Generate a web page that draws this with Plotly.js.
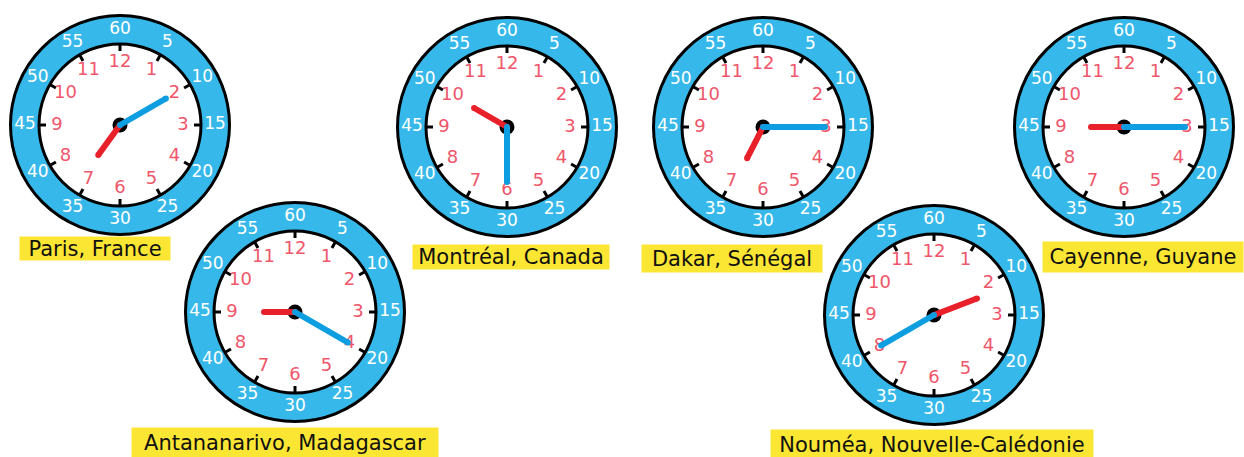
<!DOCTYPE html>
<html>
<head>
<meta charset="utf-8">
<script src="https://cdn.plot.ly/plotly-3.0.1.min.js"></script>
<style>html,body{margin:0;padding:0;background:#fff;}#chart{width:1244px;height:457px;}</style>
</head>
<body>
<div id="chart"></div>
<script>
// ---- data ----
const cities = ['Paris, France', 'Antananarivo, Madagascar', 'Montréal, Canada', 'Dakar, Sénégal', 'Nouméa, Nouvelle-Calédonie', 'Cayenne, Guyane'];
const hourHand = [7.2, 9.0, 10.0, 6.9, 2.3, 9.0];     // position of red hand on the 12-hour dial
const minuteHand = [10, 20, 30, 15, 40, 15];          // position of blue hand in minutes
const hourLabels = ['12','1','2','3','4','5','6','7','8','9','10','11'];
const minuteLabels = ['60','5','10','15','20','25','30','35','40','45','50','55'];

// ---- layout / styling ----
const centers = [[120,125],[295,312],[507,127],[763,127],[934,315],[1124,127]];
const hourLen = [37,31,38,35,46,33];
const minLen = [53,61,55,62,61,61];
const labelBoxes = [[95,248,150,23],[285,443,306,30],[511,257,196,24],[732,258,180,27],[932,445,322,30],[1143,257,200,30]];
const R_OUT = 109.5, R_IN = 81, R_MIN = 95, R_HOUR = 63, TICK_IN = 74, TICK_OUT = 81;
const RING = '#36b9ea', RED = '#e8202a', BLUE = '#0c9ee0', NUMRED = '#f0566a', YEL = '#fce634';
const FONT = '"DejaVu Sans", "Noto Sans", sans-serif';

function pt(c, ang, r) { const a = ang * Math.PI / 180; return [c[0] + r*Math.sin(a), c[1] - r*Math.cos(a)]; }

const shapes = [];
const traces = [];
const annotations = [];

centers.forEach((c, i) => {
  shapes.push({type:'circle', xref:'x', yref:'y', x0:c[0]-R_OUT, x1:c[0]+R_OUT, y0:c[1]-R_OUT, y1:c[1]+R_OUT,
    fillcolor:RING, line:{color:'#000', width:3}, layer:'below'});
  shapes.push({type:'circle', xref:'x', yref:'y', x0:c[0]-R_IN, x1:c[0]+R_IN, y0:c[1]-R_IN, y1:c[1]+R_IN,
    fillcolor:'#fff', line:{color:'#000', width:3}, layer:'below'});

  // ticks
  const tx = [], ty = [];
  for (let k = 0; k < 12; k++) {
    const p1 = pt(c, k*30, TICK_IN), p2 = pt(c, k*30, TICK_OUT);
    tx.push(p1[0], p2[0], null); ty.push(p1[1], p2[1], null);
  }
  traces.push({x:tx, y:ty, mode:'lines', line:{color:'#000', width:3}, hoverinfo:'skip'});

  // minute numbers
  const mx = [], my = [];
  minuteLabels.forEach((l, k) => { const p = pt(c, k*30, R_MIN); mx.push(p[0]); my.push(p[1]); });
  traces.push({x:mx, y:my, mode:'text', text:minuteLabels, textposition:'middle center',
    textfont:{family:FONT, size:17, color:'#fff'}, hoverinfo:'skip'});

  // hour numbers
  const hx = [], hy = [];
  hourLabels.forEach((l, k) => { const p = pt(c, k*30, R_HOUR); hx.push(p[0]); hy.push(p[1]); });
  traces.push({x:hx, y:hy, mode:'text', text:hourLabels, textposition:'middle center',
    textfont:{family:FONT, size:18, color:NUMRED}, hoverinfo:'skip'});

  // center dot
  traces.push({x:[c[0]], y:[c[1]], mode:'markers', marker:{color:'#000', size:15}, hoverinfo:'skip'});

  // hour hand
  const hp = pt(c, hourHand[i]*30, hourLen[i]);
  traces.push({x:[c[0], hp[0]], y:[c[1], hp[1]], mode:'lines+markers', line:{color:RED, width:6},
    marker:{color:RED, size:6}, hoverinfo:'skip'});
  // minute hand
  const mp = pt(c, minuteHand[i]*6, minLen[i]);
  traces.push({x:[c[0], mp[0]], y:[c[1], mp[1]], mode:'lines+markers', line:{color:BLUE, width:6},
    marker:{color:BLUE, size:6}, hoverinfo:'skip'});

  // label
  const b = labelBoxes[i];
  annotations.push({x:b[0], y:b[1], xref:'x', yref:'y', text:cities[i], showarrow:false,
    width:b[2], height:b[3], bgcolor:YEL, borderpad:0, xanchor:'center', yanchor:'middle',
    font:{family:FONT, size:21, color:'#111'}});
});

const layout = {
  width:1244, height:457, margin:{l:0, r:0, t:0, b:0},
  paper_bgcolor:'#fff', plot_bgcolor:'#fff', showlegend:false,
  xaxis:{range:[0,1244], visible:false, fixedrange:true},
  yaxis:{range:[457,0], visible:false, fixedrange:true},
  shapes:shapes, annotations:annotations
};

Plotly.newPlot('chart', traces, layout, {staticPlot:true, displayModeBar:false});
</script>
</body>
</html>
